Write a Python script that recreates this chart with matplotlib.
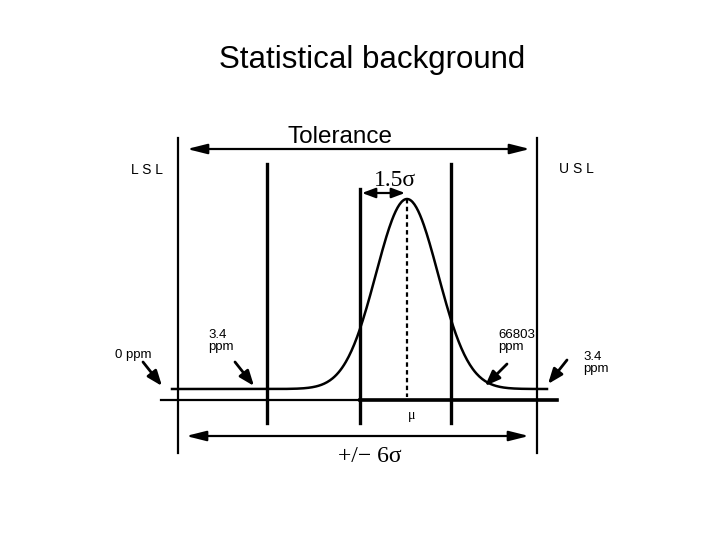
import matplotlib.pyplot as plt
import numpy as np

# diagram geometry in pixel units of the 720x540 slide (y grows downward)
spec_x = [178, 537]          # LSL, USL
spec_y = [138, 453]
shift_x = [267, 451]         # +/- limits of the process band
shift_y = [164, 423]
mean_line_x = 360
mean_line_y = [189, 423]
curve_mu = 407
curve_sigma = 31
curve_base = 389
curve_peak = 199
curve_span = [172, 547]
axis_y = 400
axis_span = [161, 557]

ppm_labels = ['0 ppm', '3.4\nppm', '66803\nppm', '3.4\nppm']
ppm_text_xy = [(115, 355), (208, 341), (498, 341), (583, 363)]
ppm_arrow_from = [(143, 362), (235, 362), (507, 364), (567, 360)]
ppm_arrow_to = [(162, 386), (254, 386), (485, 386), (548, 384)]

plt.rcParams['font.family'] = ['Liberation Sans', 'DejaVu Sans']

fig = plt.figure(figsize=(7.2, 5.4), dpi=100)
ax = fig.add_axes([0, 0, 1, 1])
ax.set_xlim(0, 720)
ax.set_ylim(540, 0)
ax.axis('off')

ax.text(372, 60, 'Statistical background', fontsize=22.5, ha='center', va='center')

# spec limits
for x in spec_x:
    ax.plot([x, x], spec_y, color='black', lw=1.6)
ax.text(147, 170, 'L S L', fontsize=10, ha='center', va='center')
ax.text(576, 169, 'U S L', fontsize=10, ha='center', va='center')

# process limits
for x in shift_x:
    ax.plot([x, x], shift_y, color='black', lw=2.4)
ax.plot([mean_line_x, mean_line_x], mean_line_y, color='black', lw=2.4)

# normal curve
xs = np.linspace(curve_span[0], curve_span[1], 400)
ys = curve_base - (curve_base - curve_peak) * np.exp(-0.5 * ((xs - curve_mu) / curve_sigma) ** 2)
ax.plot(xs, ys, color='black', lw=1.8)
ax.plot([curve_mu, curve_mu], [curve_peak, 397], color='black', lw=1.6, ls=(0, (2, 1.5)))

# horizontal axis
ax.plot(axis_span, [axis_y, axis_y], color='black', lw=1.6)
ax.plot([mean_line_x, axis_span[1]], [axis_y, axis_y], color='black', lw=2.6)
ax.text(412, 415, 'μ', fontsize=10, ha='center', va='center',
        family=['Liberation Serif', 'DejaVu Serif'])

arrow = dict(arrowstyle='<|-|>,head_length=1.2,head_width=0.3', color='black', lw=1.6,
             shrinkA=0, shrinkB=0)

# tolerance arrow
ax.annotate('', xy=(530, 149), xytext=(187, 149), arrowprops=arrow)
ax.text(340, 137, 'Tolerance', fontsize=17.5, ha='center', va='center')

# +/- 6 sigma arrow
ax.annotate('', xy=(529, 436), xytext=(186, 436), arrowprops=arrow)
ax.text(370, 457, '+/− 6σ', fontsize=17, ha='center', va='center',
        family=['Liberation Serif', 'DejaVu Serif'])

# 1.5 sigma shift
ax.annotate('', xy=(405, 193), xytext=(362, 193),
            arrowprops=dict(arrowstyle='<|-|>,head_length=0.8,head_width=0.3',
                            color='black', lw=1.6, shrinkA=0, shrinkB=0))
ax.text(395, 180, '1.5σ', fontsize=17, ha='center', va='center',
        family=['Liberation Serif', 'DejaVu Serif'])

# ppm call-outs
for label, txy, a0, a1 in zip(ppm_labels, ppm_text_xy, ppm_arrow_from, ppm_arrow_to):
    ax.text(txy[0], txy[1], label, fontsize=9.5, ha='left', va='center', linespacing=0.95)
    ax.annotate('', xy=a1, xytext=a0,
                arrowprops=dict(arrowstyle='-|>,head_length=0.9,head_width=0.35',
                                color='black', lw=2, shrinkA=0, shrinkB=0))

fig.savefig('out.png', dpi=100)
